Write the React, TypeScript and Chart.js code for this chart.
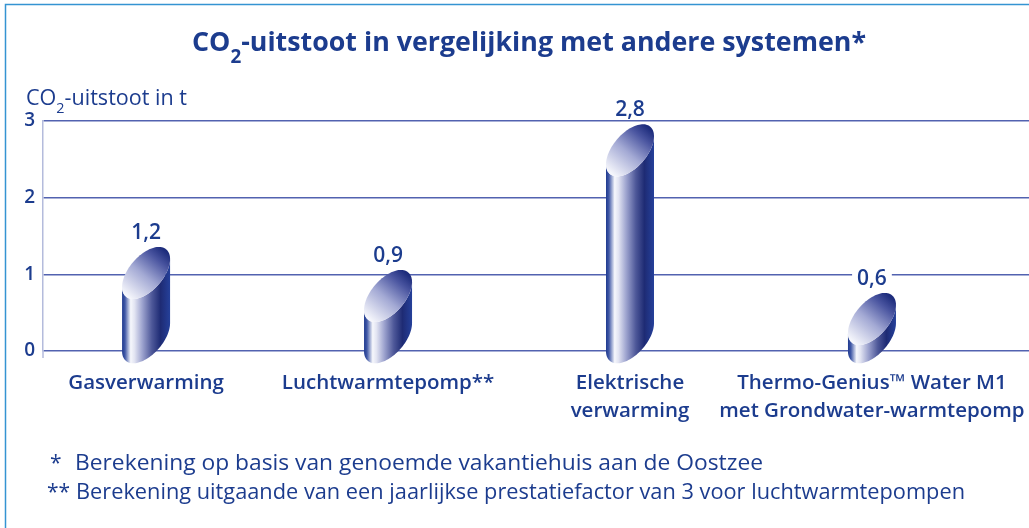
import React, { useEffect, useRef } from "react";
import { Chart, registerables } from "chart.js";

Chart.register(...registerables);

// ---------- data ----------
const CATEGORIES: string[][] = [
  ["Gasverwarming"],
  ["Luchtwarmtepomp**"],
  ["Elektrische", "verwarming"],
  ["Thermo-Genius™ Water M1", "met Grondwater-warmtepomp"],
];
const VALUES: number[] = [1.2, 0.9, 2.8, 0.6];
const Y_TICKS: number[] = [0, 1, 2, 3];
const TITLE_PARTS = [
  { text: "CO", sub: false },
  { text: "2", sub: true },
  { text: "-uitstoot in vergelijking met andere systemen*", sub: false },
];
const Y_TITLE_PARTS = [
  { text: "CO", sub: false },
  { text: "2", sub: true },
  { text: "-uitstoot in t", sub: false },
];
const FOOTNOTE_MARKS: string[] = ["*", "**"];
const FOOTNOTES: string[] = [
  "Berekening op basis van genoemde vakantiehuis aan de Oostzee",
  "Berekening uitgaande van een jaarlijkse prestatiefactor van 3 voor luchtwarmtepompen",
];

// ---------- styles ----------
const BLUE = "#1c3c8e";
const FAMILY = "'Open Sans', 'Noto Sans', sans-serif";

type Part = { text: string; sub: boolean };

function drawRich(
  ctx: CanvasRenderingContext2D,
  parts: Part[],
  mainFont: string,
  subFont: string,
  subOffset: number,
  x: number,
  baseline: number,
  align: "left" | "center",
  targetWidth: number
) {
  ctx.save();
  ctx.textBaseline = "alphabetic";
  ctx.textAlign = "left";
  let total = 0;
  const widths = parts.map((p) => {
    ctx.font = p.sub ? subFont : mainFont;
    const w = ctx.measureText(p.text).width;
    total += w;
    return w;
  });
  const k = targetWidth / total;
  const drawnW = total * k;
  const x0 = align === "center" ? x - drawnW / 2 : x;
  ctx.translate(x0, 0);
  ctx.scale(k, 1);
  let cx = 0;
  parts.forEach((p, i) => {
    ctx.font = p.sub ? subFont : mainFont;
    ctx.fillText(p.text, cx, baseline + (p.sub ? subOffset : 0));
    cx += widths[i];
  });
  ctx.restore();
}

function cylinder(
  ctx: CanvasRenderingContext2D,
  cx: number,
  topC: number,
  botC: number,
  A: number,
  S: number,
  B: number
) {
  const pt = (cy: number, t: number): [number, number] => [
    cx + A * Math.cos(t),
    cy - S * Math.cos(t) + B * Math.sin(t),
  ];
  const N = 48;
  ctx.beginPath();
  ctx.moveTo(cx - A, topC + S);
  ctx.lineTo(cx - A, botC + S);
  for (let j = 0; j <= N; j++) {
    const t = Math.PI - (Math.PI * j) / N;
    const [px, py] = pt(botC, t);
    ctx.lineTo(px, py);
  }
  ctx.lineTo(cx + A, topC - S);
  for (let j = 0; j <= N; j++) {
    const t = (Math.PI * j) / N;
    const [px, py] = pt(topC, t);
    ctx.lineTo(px, py);
  }
  ctx.closePath();
  const g = ctx.createLinearGradient(cx - A, 0, cx + A, 0);
  g.addColorStop(0, "#1f3a8f");
  g.addColorStop(0.06, "#4058a6");
  g.addColorStop(0.18, "#f6f7fc");
  g.addColorStop(0.26, "#e2e4f2");
  g.addColorStop(0.42, "#9ea4cf");
  g.addColorStop(0.62, "#4e5899");
  g.addColorStop(0.8, "#1e2b74");
  g.addColorStop(1, "#25409a");
  ctx.fillStyle = g;
  ctx.fill();

  ctx.beginPath();
  for (let j = 0; j <= 2 * N; j++) {
    const t = (Math.PI * j) / N;
    const [px, py] = pt(topC, t);
    if (j === 0) ctx.moveTo(px, py);
    else ctx.lineTo(px, py);
  }
  ctx.closePath();
  const g2 = ctx.createLinearGradient(cx - A * 0.8, topC + B, cx + A * 0.8, topC - B);
  g2.addColorStop(0, "#f4f5fb");
  g2.addColorStop(0.45, "#a3a9d4");
  g2.addColorStop(0.8, "#4a55a0");
  g2.addColorStop(1, "#1d2c7c");
  ctx.fillStyle = g2;
  ctx.fill();
}

const decorPlugin = {
  id: "decor",
  beforeDraw(chart: any) {
    const ctx: CanvasRenderingContext2D = chart.ctx;
    ctx.save();
    ctx.fillStyle = "#ffffff";
    ctx.fillRect(0, 0, chart.width, chart.height);
    ctx.strokeStyle = "#3494d2";
    ctx.lineWidth = 1.5;
    ctx.beginPath();
    ctx.moveTo(5.5, 560);
    ctx.lineTo(5.5, 4.5);
    ctx.lineTo(1060, 4.5);
    ctx.stroke();
    ctx.restore();
  },
  afterDatasetsDraw(chart: any) {
    const ctx: CanvasRenderingContext2D = chart.ctx;
    const meta = chart.getDatasetMeta(0);
    const S = 14;
    const B = 22;
    ctx.save();
    meta.data.forEach((bar: any, i: number) => {
      const { x, y, base, width } = bar.getProps(["x", "y", "base", "width"], true);
      const A = width / 2;
      const topC = y + 14;
      const botC = base - 13;
      cylinder(ctx, x, topC, botC, A, S, B);
      const topPoint = topC - Math.sqrt(S * S + B * B);
      const label = VALUES[i].toFixed(1).replace(".", ",");
      ctx.font = `600 21px ${FAMILY}`;
      const tw = ctx.measureText(label).width;
      const ly = topPoint - 14;
      ctx.fillStyle = "#ffffff";
      ctx.fillRect(x - tw / 2 - 5, ly - 9, tw + 10, 18);
      ctx.fillStyle = BLUE;
      ctx.textAlign = "center";
      ctx.textBaseline = "middle";
      ctx.fillText(label, x, ly);
    });
    ctx.restore();
  },
  afterDraw(chart: any) {
    const ctx: CanvasRenderingContext2D = chart.ctx;
    ctx.save();
    ctx.fillStyle = BLUE;
    drawRich(ctx, TITLE_PARTS, `700 27px ${FAMILY}`, `700 19px ${FAMILY}`, 12, 529, 51, "center", 674);
    drawRich(ctx, Y_TITLE_PARTS, `400 21px ${FAMILY}`, `400 14px ${FAMILY}`, 8, 26, 105, "left", 161);
    ctx.font = `400 21px ${FAMILY}`;
    ctx.textAlign = "left";
    ctx.textBaseline = "alphabetic";
    const baselines = [470, 499];
    const markX = [50, 47];
    const textX = [75, 76];
    const widths = [688, 889];
    FOOTNOTES.forEach((txt, i) => {
      ctx.fillText(FOOTNOTE_MARKS[i], markX[i], baselines[i]);
      const w = ctx.measureText(txt).width;
      ctx.save();
      ctx.translate(textX[i], 0);
      ctx.scale(widths[i] / w, 1);
      ctx.fillText(txt, 0, baselines[i]);
      ctx.restore();
    });
    const y0 = chart.scales.y.getPixelForValue(0);
    ctx.strokeStyle = "#b4bbdc";
    ctx.lineWidth = 1.5;
    ctx.beginPath();
    ctx.moveTo(chart.chartArea.left, y0);
    ctx.lineTo(chart.chartArea.left, y0 + 7);
    ctx.stroke();
    ctx.restore();
  },
};

export default function App() {
  const ref = useRef<HTMLCanvasElement | null>(null);
  useEffect(() => {
    if (!ref.current) return;
    const chart = new Chart(ref.current, {
      type: "bar",
      data: {
        datasets: [
          {
            data: VALUES.map((v, i) => ({ x: i, y: v })),
            backgroundColor: "rgba(0,0,0,0)",
            borderWidth: 0,
            barThickness: 48,
          } as any,
        ],
      },
      options: {
        responsive: false,
        animation: false,
        layout: { padding: { top: 121, left: 0, right: 0, bottom: 0 } },
        plugins: {
          legend: { display: false },
          tooltip: { enabled: false },
          title: { display: false },
        },
        scales: {
          x: {
            type: "linear",
            offset: false,
            min: -0.426,
            max: 3.649,
            afterBuildTicks: (axis: any) => {
              axis.ticks = CATEGORIES.map((_, i) => ({ value: i }));
            },
            afterFit: (scale: any) => {
              scale.height = 177;
              scale.paddingLeft = 0;
              scale.paddingRight = 0;
            },
            grid: { display: false, drawTicks: false },
            border: { display: false },
            ticks: {
              autoSkip: false,
              maxRotation: 0,
              minRotation: 0,
              padding: 19,
              color: BLUE,
              font: { family: FAMILY, size: 20.5, weight: "600", lineHeight: 1.33 } as any,
              callback: (value: any) => CATEGORIES[Number(value)] ?? "",
            },
          },
          y: {
            min: 0,
            max: 3,
            afterBuildTicks: (axis: any) => {
              axis.ticks = Y_TICKS.map((v) => ({ value: v }));
            },
            afterFit: (scale: any) => {
              scale.width = 43;
            },
            grid: { color: "#5262b0", lineWidth: 1.5, drawTicks: false },
            border: { display: true, color: "#b4bbdc", width: 1.5 },
            ticks: {
              padding: 8,
              color: BLUE,
              font: { family: FAMILY, size: 19, weight: "600" } as any,
              callback: (v: any) => String(v),
            },
          },
        },
      } as any,
      plugins: [decorPlugin],
    });
    return () => chart.destroy();
  }, []);

  return (
    <div style={{ position: "fixed", left: 0, top: 0, width: 1029, height: 528, background: "#fff" }}>
      <canvas ref={ref} width={1029} height={528} style={{ display: "block" }} />
    </div>
  );
}
